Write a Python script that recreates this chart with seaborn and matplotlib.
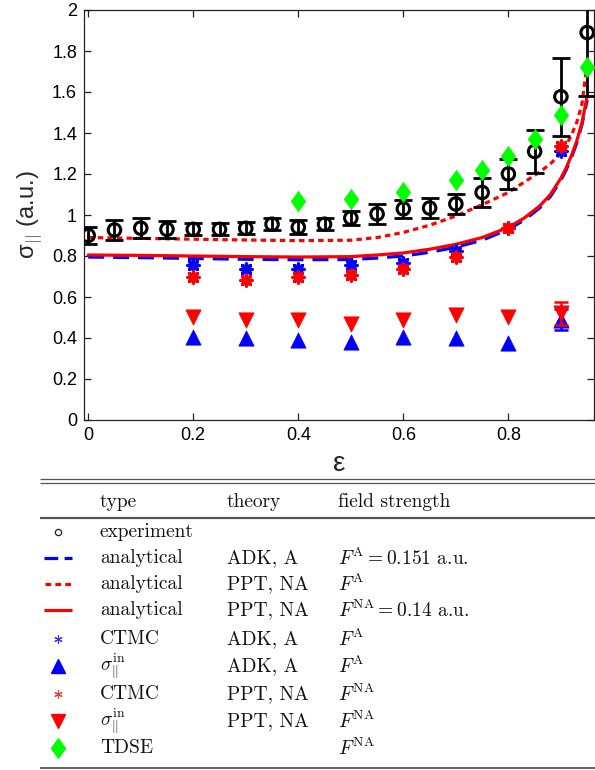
import matplotlib
matplotlib.use("Agg")
import matplotlib.pyplot as plt
import numpy as np
import pandas as pd
import seaborn as sns

# ---------------------------------------------------------------- data
eps_exp = [0.0, 0.05, 0.10, 0.15, 0.20, 0.25, 0.30, 0.35, 0.40, 0.45,
           0.50, 0.55, 0.60, 0.65, 0.70, 0.75, 0.80, 0.85, 0.90, 0.95]
sig_exp = [0.900, 0.927, 0.936, 0.930, 0.930, 0.930, 0.935, 0.955, 0.940, 0.955,
           0.985, 1.005, 1.030, 1.034, 1.054, 1.110, 1.200, 1.310, 1.577, 1.890]
err_exp = [0.040, 0.049, 0.049, 0.040, 0.030, 0.030, 0.030, 0.030, 0.035, 0.030,
           0.035, 0.050, 0.045, 0.050, 0.050, 0.070, 0.075, 0.105, 0.190, 0.310]

eps_curve = [0.0, 0.1, 0.2, 0.3, 0.4, 0.5, 0.55, 0.6, 0.65, 0.7, 0.75, 0.8,
             0.83, 0.86, 0.88, 0.9, 0.91, 0.92, 0.93, 0.94, 0.95]
adk_a = [0.795, 0.792, 0.788, 0.784, 0.782, 0.783, 0.790, 0.800, 0.818, 0.843,
         0.877, 0.930, 0.975, 1.035, 1.090, 1.170, 1.220, 1.280, 1.350, 1.440, 1.560]
ppt_na_fa = [0.890, 0.886, 0.882, 0.878, 0.875, 0.877, 0.890, 0.915, 0.950, 0.995,
             1.050, 1.110, 1.160, 1.210, 1.250, 1.300, 1.340, 1.390, 1.450, 1.540, 1.740]
ppt_na_fna = [0.805, 0.803, 0.800, 0.797, 0.795, 0.797, 0.805, 0.815, 0.833, 0.857,
              0.890, 0.940, 0.985, 1.045, 1.100, 1.180, 1.230, 1.290, 1.360, 1.450, 1.580]

eps_sim = [0.2, 0.3, 0.4, 0.5, 0.6, 0.7, 0.8, 0.9]
ctmc_adk = [0.756, 0.735, 0.735, 0.756, 0.765, 0.825, 0.935, 1.310]
ctmc_ppt = [0.700, 0.683, 0.697, 0.707, 0.738, 0.795, 0.935, 1.337]
sin_adk = [0.405, 0.400, 0.390, 0.380, 0.405, 0.400, 0.375, 0.490]
sin_ppt = [0.500, 0.490, 0.490, 0.470, 0.490, 0.510, 0.500, 0.520]
sin_err_eps = [0.9]
sin_adk_err = [0.05]
sin_ppt_err = [0.055]

eps_tdse = [0.4, 0.5, 0.6, 0.7, 0.75, 0.8, 0.85, 0.9, 0.95]
tdse = [1.07, 1.08, 1.11, 1.17, 1.22, 1.29, 1.37, 1.49, 1.72]

x_ticks = [0, 0.2, 0.4, 0.6, 0.8]
x_ticklabels = ["0", "0.2", "0.4", "0.6", "0.8"]
y_ticks = [0, 0.2, 0.4, 0.6, 0.8, 1.0, 1.2, 1.4, 1.6, 1.8, 2.0]
y_ticklabels = ["0", "0.2", "0.4", "0.6", "0.8", "1", "1.2", "1.4", "1.6", "1.8", "2"]

table_header = ["type", "theory", "field strength"]
table_rows = [
    ["experiment", "", ""],
    ["analytical", "ADK, A", r"$F^{\rm A} = 0.151$ a.u."],
    ["analytical", "PPT, NA", r"$F^{\rm A}$"],
    ["analytical", "PPT, NA", r"$F^{\rm NA} = 0.14$ a.u."],
    ["CTMC", "ADK, A", r"$F^{\rm A}$"],
    [r"$\sigma_{||}^{\rm in}$", "ADK, A", r"$F^{\rm A}$"],
    ["CTMC", "PPT, NA", r"$F^{\rm NA}$"],
    [r"$\sigma_{||}^{\rm in}$", "PPT, NA", r"$F^{\rm NA}$"],
    ["TDSE", "", r"$F^{\rm NA}$"],
]

BLUE = "#0000ff"
RED = "#ff0000"
GREEN = "#00ff00"

# tall diamond marker
DIAMOND = [(0, 1), (0.72, 0), (0, -1), (-0.72, 0), (0, 1)]

# ---------------------------------------------------------------- style
sns.set_style("ticks")
plt.rcParams["font.family"] = ["Liberation Sans", "DejaVu Sans"]
plt.rcParams["mathtext.fontset"] = "cm"
plt.rcParams["axes.linewidth"] = 0.9
plt.rcParams["xtick.direction"] = "in"
plt.rcParams["ytick.direction"] = "in"

fig = plt.figure(figsize=(5.95, 7.70), dpi=100)
ax = fig.add_axes([84 / 595, 1 - 420 / 770, 510 / 595, 410 / 770])

curves = pd.DataFrame({"eps": eps_curve, "adk": adk_a, "fa": ppt_na_fa, "fna": ppt_na_fna})
sns.lineplot(data=curves, x="eps", y="fa", ax=ax, color=RED, lw=2.3,
             linestyle=(0, (1.7, 1.3)), zorder=2)
sns.lineplot(data=curves, x="eps", y="adk", ax=ax, color=BLUE, lw=2.3,
             linestyle=(0, (5, 2.8)), zorder=2)
sns.lineplot(data=curves, x="eps", y="fna", ax=ax, color=RED, lw=2.3, zorder=2)

# experiment with error bars
ax.errorbar(eps_exp, sig_exp, yerr=err_exp, fmt="none", ecolor="black",
            elinewidth=2.0, capsize=6.5, capthick=2.0, zorder=3)
exp_df = pd.DataFrame({"eps": eps_exp, "sig": sig_exp})
sns.scatterplot(data=exp_df, x="eps", y="sig", ax=ax, marker="o", s=9 ** 2,
                facecolor="none", edgecolor="black", linewidth=2.2, zorder=4)

sim = pd.DataFrame({"eps": eps_sim, "ca": ctmc_adk, "cp": ctmc_ppt,
                    "sa": sin_adk, "sp": sin_ppt})
ast = (8, 2, 0)
sns.scatterplot(data=sim, x="eps", y="ca", ax=ax, marker=ast, s=8 ** 2,
                color=BLUE, edgecolor=BLUE, linewidth=2.4, zorder=5)
sns.scatterplot(data=sim, x="eps", y="cp", ax=ax, marker=ast, s=8 ** 2,
                color=RED, edgecolor=RED, linewidth=2.4, zorder=6)

ax.errorbar(sin_err_eps, [sin_adk[-1]], yerr=sin_adk_err, fmt="none",
            ecolor=BLUE, elinewidth=1.8, capsize=5, capthick=1.8, zorder=5)
ax.errorbar(sin_err_eps, [sin_ppt[-1]], yerr=sin_ppt_err, fmt="none",
            ecolor=RED, elinewidth=1.8, capsize=5, capthick=1.8, zorder=6)
sns.scatterplot(data=sim, x="eps", y="sa", ax=ax, marker="^", s=11 ** 2,
                color=BLUE, edgecolor=BLUE, linewidth=0.5, zorder=5)
sns.scatterplot(data=sim, x="eps", y="sp", ax=ax, marker="v", s=11 ** 2,
                color=RED, edgecolor=RED, linewidth=0.5, zorder=6)

tdse_df = pd.DataFrame({"eps": eps_tdse, "sig": tdse})
sns.scatterplot(data=tdse_df, x="eps", y="sig", ax=ax, marker=DIAMOND, s=14.5 ** 2,
                color=GREEN, edgecolor=GREEN, linewidth=0.5, zorder=7)

ax.set_xlim(-0.008, 0.963)
ax.set_ylim(0, 2)
ax.set_xticks(x_ticks)
ax.set_xticklabels(x_ticklabels)
ax.set_yticks(y_ticks)
ax.set_yticklabels(y_ticklabels)
ax.tick_params(axis="both", which="both", top=True, right=True, length=5,
               width=0.9, labelsize=13, pad=5, colors="#222222", labelcolor="black")
for s in ax.spines.values():
    s.set_color("#222222")
    s.set_visible(True)
ax.set_xlabel("ε", fontsize=20, labelpad=5)
ax.set_ylabel(r"σ$_{||}$ (a.u.)", fontsize=17, labelpad=6)

# ---------------------------------------------------------------- table
tab = fig.add_axes([0, 0, 1, 1 - 470 / 770])
tab.set_xlim(0, 595)
tab.set_ylim(770, 470)
tab.axis("off")

rule = "#555555"
tab.plot([40, 595], [479, 479], color=rule, lw=0.9, solid_capstyle="butt")
tab.plot([40, 595], [483, 483], color=rule, lw=0.9, solid_capstyle="butt")
tab.plot([40, 595], [518, 518], color=rule, lw=1.6, solid_capstyle="butt")
tab.plot([40, 595], [768, 768], color=rule, lw=1.3, solid_capstyle="butt")

col_x = [100, 227, 338]
txt_kw = dict(fontsize=14, fontfamily="cmr10", va="center", ha="left", color="#111111")
for cx, h in zip(col_x, table_header):
    tab.text(cx, 502, h, **txt_kw)

row_y = [532, 558, 584, 610, 639, 666, 694, 721, 748]
for ry, row in zip(row_y, table_rows):
    for cx, t in zip(col_x, row):
        if t:
            tab.text(cx, ry, t, **txt_kw)

# legend glyphs in the first column
sx = 58
tab.plot([sx], [row_y[0]], marker="o", ms=4.5, mfc="none", mec="#222222", mew=0.9)
tab.plot([44, 72], [row_y[1]] * 2, color=BLUE, lw=2.3, linestyle=(0, (4.3, 2.0)),
         solid_capstyle="butt", dash_capstyle="butt")
tab.plot([45, 71], [row_y[2]] * 2, color=RED, lw=2.3, linestyle=(0, (1.8, 1.3)),
         dash_capstyle="butt")
tab.plot([44, 72], [row_y[3]] * 2, color=RED, lw=2.3, solid_capstyle="butt")
tab.plot([sx], [row_y[4]], marker=(6, 2, 0), ms=6, mec="#3333ff", mew=0.8, ls="none")
tab.plot([sx], [row_y[5]], marker="^", ms=10, color=BLUE, ls="none")
tab.plot([sx], [row_y[6]], marker=(6, 2, 0), ms=6, mec="#ff3333", mew=0.8, ls="none")
tab.plot([sx], [row_y[7]], marker="v", ms=10, color=RED, ls="none")
tab.plot([sx], [row_y[8]], marker=DIAMOND, ms=14, color=GREEN, ls="none")

fig.savefig("out.png", dpi=100)
